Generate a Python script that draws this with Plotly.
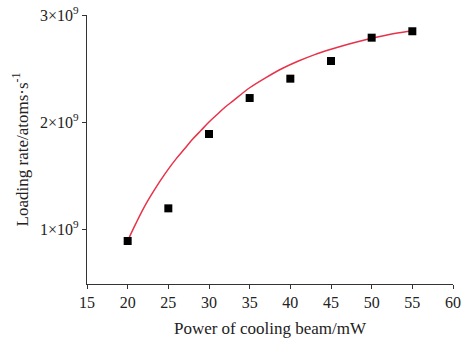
import plotly.graph_objects as go

# Measured data (loading rate vs cooling-beam power)
power = [20, 25, 30, 35, 40, 45, 50, 55]
rate = [0.888e9, 1.193e9, 1.888e9, 2.224e9, 2.405e9, 2.57e9, 2.788e9, 2.848e9]

# Fitted curve
fit_power = [20, 21, 22, 23, 24, 25, 26, 27, 28, 29, 30, 31, 32, 33, 35, 37, 39, 41,
             43, 45, 47, 49, 51, 53, 55]
fit_rate = [0.89e9, 1.05e9, 1.20e9, 1.33e9, 1.45e9, 1.56e9, 1.66e9, 1.75e9, 1.84e9,
            1.92e9, 2.00e9, 2.07e9, 2.14e9, 2.20e9, 2.32e9, 2.415e9, 2.50e9, 2.57e9,
            2.63e9, 2.68e9, 2.725e9, 2.765e9, 2.80e9, 2.83e9, 2.85e9]

x_ticks = [15, 20, 25, 30, 35, 40, 45, 50, 55, 60]
y_ticks = [1e9, 2e9, 3e9]
y_tick_text = ["1×10<sup>9</sup>", "2×10<sup>9</sup>", "3×10<sup>9</sup>"]

font = "Liberation Serif"

fig = go.Figure()
fig.add_trace(go.Scatter(x=fit_power, y=fit_rate, mode="lines", line_shape="spline",
                         line=dict(color="#e8324a", width=1.5), showlegend=False))
fig.add_trace(go.Scatter(x=power, y=rate, mode="markers",
                         marker=dict(symbol="square", size=8, color="black"),
                         showlegend=False))

axis_common = dict(showline=True, linecolor="#333", linewidth=1.2, ticks="outside",
                   ticklen=4, tickwidth=1, tickcolor="#333", showgrid=False,
                   zeroline=False, mirror=False, automargin=False,
                   tickfont=dict(family=font, size=16, color="#222"))

fig.update_xaxes(range=[15, 60], tickvals=x_ticks,
                 title=dict(text="Power of cooling beam/mW",
                            font=dict(family=font, size=17, color="#222"), standoff=11),
                 **axis_common)
fig.update_yaxes(range=[0.486e9, 3.0e9], tickvals=y_ticks, ticktext=y_tick_text,
                 title=dict(text="Loading rate/atoms·s<sup>-1</sup>",
                            font=dict(family=font, size=17, color="#222"), standoff=7),
                 **axis_common)

fig.update_layout(width=467, height=339, margin=dict(l=87, r=14, t=15, b=55),
                  paper_bgcolor="white", plot_bgcolor="white",
                  font=dict(family=font, size=16, color="#222"))

fig.write_html("out.html")
